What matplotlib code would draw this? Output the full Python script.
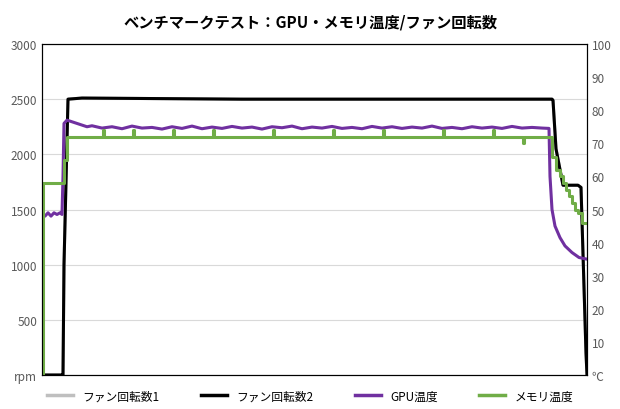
import matplotlib
matplotlib.use("Agg")
import matplotlib.pyplot as plt

plt.rcParams['font.family'] = ['Noto Sans CJK JP', 'DejaVu Sans']

title = "ベンチマークテスト：GPU・メモリ温度/ファン回転数"
labels = ["ファン回転数1", "ファン回転数2", "GPU温度", "メモリ温度"]

fan_t = [0, 20, 21, 22, 26, 40, 120, 200, 300, 400, 510, 511, 514, 521, 536, 539, 544, 545]
fan2 = [0, 0, 0, 1000, 2500, 2510, 2505, 2500, 2500, 2500, 2500, 2490, 2050, 1720, 1720, 1700, 200, 0]
fan1 = fan2

gpu_t = [0, 3, 6, 9, 12, 15, 18, 20, 21, 22, 25, 30, 35, 40, 45, 50, 60, 70, 80, 90, 100, 110, 120,
         130, 140, 150, 160, 170, 180, 190, 200, 210, 220, 230, 240, 250, 260, 270, 280, 290, 300,
         310, 320, 330, 340, 350, 360, 370, 380, 390, 400, 410, 420, 430, 440, 450, 460, 470, 480,
         490, 500, 507, 508, 510, 513, 518, 523, 530, 537, 545]
gpu = [49, 48, 49, 48, 49, 48.5, 49, 48.5, 60, 76, 77, 76.5, 76, 75.5, 75, 75.3, 74.6, 75, 74.4, 75.2,
       74.6, 74.8, 74.3, 75, 74.5, 75.2, 74.4, 74.9, 74.5, 75.1, 74.6, 74.9, 74.3, 75, 74.7, 75.2,
       74.4, 74.9, 74.6, 75.1, 74.5, 74.8, 74.4, 75.1, 74.6, 75, 74.5, 74.9, 74.6, 75.2, 74.5, 74.8,
       74.4, 75, 74.6, 74.9, 74.5, 75.1, 74.6, 74.8, 74.6, 74.5, 60, 50, 45, 41.5, 39, 37, 35.5, 35]

mem_t = [0, 0.5, 1, 20, 22, 25, 40, 60, 61, 62, 90, 91, 92, 130, 131, 132, 170, 171, 172, 230,
         231, 232, 290, 291, 292, 340, 341, 342, 400, 401, 402, 450, 451, 452, 480, 481, 482,
         507, 510, 514, 518, 521, 524, 527, 530, 533, 536, 540, 545]
mem = [0, 58, 58, 58, 65, 72, 72, 72, 74, 72, 72, 74, 72, 72, 74, 72, 72, 74, 72, 72,
       74, 72, 72, 74, 72, 72, 74, 72, 72, 74, 72, 72, 74, 72, 72, 70, 72,
       72, 66, 62, 60, 58, 56, 54, 52, 50, 49, 46, 46]

fig = plt.figure(figsize=(6.2, 4.1), dpi=100)
ax = fig.add_axes([42/620, 1-376/410, 545/620, 331/410])
ax2 = ax.twinx()

ax.plot(fan_t, fan1, color="#bfbfbf", lw=2.2)
ax.plot(fan_t, fan2, color="#000000", lw=2.2)
ax2.plot(gpu_t, gpu, color="#7030a0", lw=2.2)
ax2.plot(mem_t, mem, color="#70ad47", lw=2.2, drawstyle="steps-post")

ax.set_xlim(0, 545)
ax.set_ylim(0, 3000)
ax2.set_ylim(0, 100)
ax.set_yticks(range(0, 3001, 500))
ax.set_yticklabels(["rpm"] + [str(v) for v in range(500, 3001, 500)])
ax2.set_yticks(range(0, 101, 10))
ax2.set_yticklabels(["℃"] + [str(v) for v in range(10, 101, 10)])
ax.set_xticks([])
ax.grid(axis="y", color="#d9d9d9", lw=0.8)
ax.set_axisbelow(True)
for a in (ax, ax2):
    a.tick_params(length=0, labelsize=8.5, labelcolor="#595959")
    for s in a.spines.values():
        s.set_color("#000000")
        s.set_linewidth(0.8)

fig.suptitle(title, x=0.5, y=0.965, fontsize=11, fontweight="bold")

handles = [plt.Line2D([], [], color=c, lw=2.5) for c in ["#bfbfbf", "#000000", "#7030a0", "#70ad47"]]
fig.legend(handles, labels, loc="lower center", ncol=4, frameon=False, fontsize=8.5,
           bbox_to_anchor=(0.5, -0.01), handlelength=2.2, columnspacing=3.5)

fig.savefig("out.png", dpi=100)
